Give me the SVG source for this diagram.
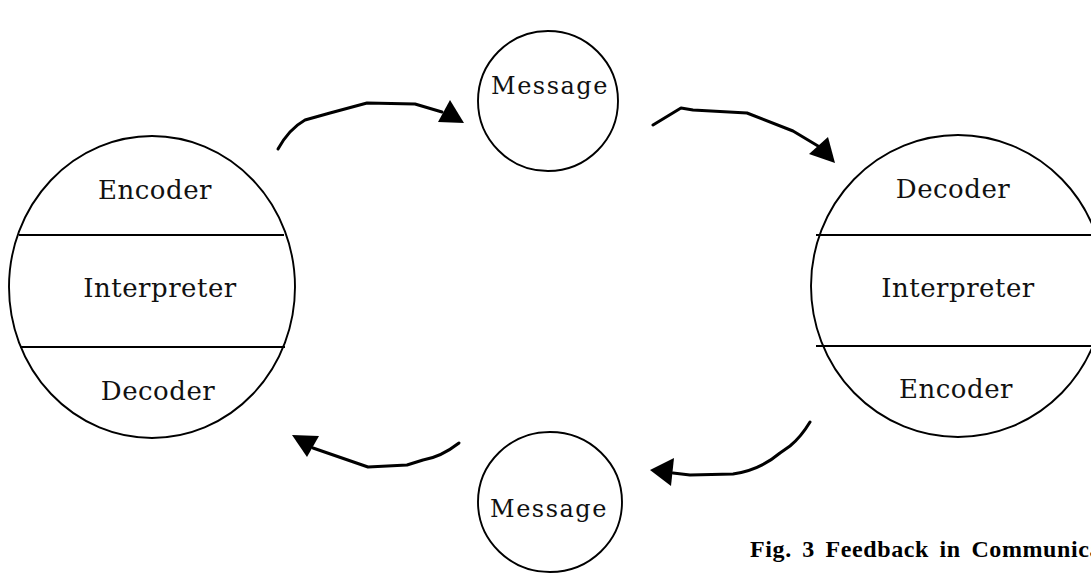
<svg xmlns="http://www.w3.org/2000/svg" width="1091" height="573" viewBox="0 0 1091 573">
  <style>
    .ring { fill: none; stroke: #000; stroke-width: 1.9; }
    .band { stroke: #000; stroke-width: 1.9; }
    .lbl { font-family: "DejaVu Serif", "Liberation Serif", serif; font-size: 26px; fill: #111; text-anchor: middle; letter-spacing: 0.5px; }
    .msg { font-size: 24px; letter-spacing: 1.5px; }
    .flow { fill: none; stroke: #000; stroke-width: 3; stroke-linecap: round; stroke-linejoin: round; }
    .head { fill: #000; }
    .cap { font-family: "Liberation Serif", "DejaVu Serif", serif; font-size: 24px; font-weight: bold; fill: #000; letter-spacing: 0.6px; word-spacing: 4px; }
  </style>
  <rect width="1091" height="573" fill="#fff"/>

  <!-- sender -->
  <g id="sender">
    <ellipse class="ring" cx="152" cy="287" rx="143" ry="151"/>
    <line class="band" x1="19" y1="235" x2="284" y2="235"/>
    <line class="band" x1="20" y1="347" x2="285" y2="347"/>
    <text class="lbl" x="155" y="199">Encoder</text>
    <text class="lbl" x="160" y="297">Interpreter</text>
    <text class="lbl" x="158" y="400">Decoder</text>
  </g>

  <!-- receiver -->
  <g id="receiver">
    <ellipse class="ring" cx="958" cy="286" rx="147" ry="151"/>
    <line class="band" x1="816" y1="235" x2="1091" y2="235"/>
    <line class="band" x1="816" y1="346" x2="1091" y2="346"/>
    <text class="lbl" x="953" y="198">Decoder</text>
    <text class="lbl" x="958" y="297">Interpreter</text>
    <text class="lbl" x="956" y="398">Encoder</text>
  </g>

  <g id="message-out">
    <ellipse class="ring" cx="548" cy="101" rx="70" ry="70"/>
    <text class="lbl msg" x="550" y="94">Message</text>
  </g>

  <g id="message-back">
    <ellipse class="ring" cx="550" cy="502" rx="72" ry="70"/>
    <text class="lbl msg" x="549" y="517">Message</text>
  </g>

  <!-- connectors -->
  <g id="connectors">
    <path class="flow" d="M278,149 Q289,129 305,120 L330,113 L367,103 L415,104 L442,112"/>
    <polygon class="head" points="450,100 438,122 464,123"/>
    <path class="flow" d="M653,125 L681,108 L693,110 L747,113 L793,131 L818,146"/>
    <polygon class="head" points="828,137 809,154 835,163"/>
    <path class="flow" d="M459,443 Q441,457 423,460 L407,465 L368,467 L313,448"/>
    <polygon class="head" points="292,435 319,436 307,457"/>
    <path class="flow" d="M810,422 Q801,437 790,446 L780,453 Q760,470 733,474 L690,475 L673,473"/>
    <polygon class="head" points="650,470 674,458 671,486"/>
  </g>

  <text class="cap" x="750" y="557">Fig. 3 Feedback in Communication</text>
</svg>
